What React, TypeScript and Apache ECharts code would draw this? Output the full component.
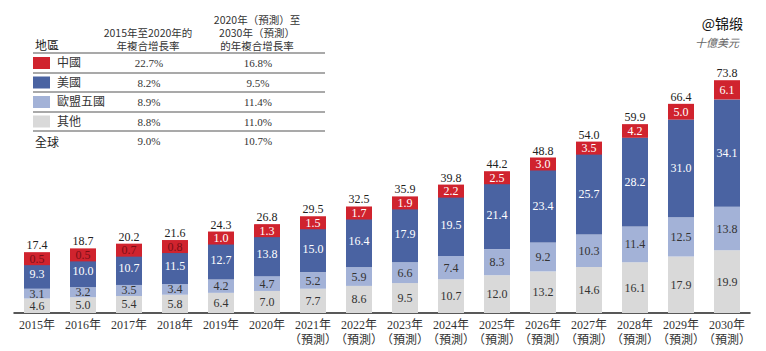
import React, { useEffect, useRef } from "react";
import * as echarts from "echarts";

const categories = [
  "2015年", "2016年", "2017年", "2018年", "2019年", "2020年",
  "2021年\n（預測）", "2022年\n（預測）", "2023年\n（預測）", "2024年\n（預測）", "2025年\n（預測）",
  "2026年\n（預測）", "2027年\n（預測）", "2028年\n（預測）", "2029年\n（預測）", "2030年\n（預測）",
];
const otherVals = [4.6, 5.0, 5.4, 5.8, 6.4, 7.0, 7.7, 8.6, 9.5, 10.7, 12.0, 13.2, 14.6, 16.1, 17.9, 19.9];
const eu5Vals = [3.1, 3.2, 3.5, 3.4, 4.2, 4.7, 5.2, 5.9, 6.6, 7.4, 8.3, 9.2, 10.3, 11.4, 12.5, 13.8];
const usVals = [9.3, 10.0, 10.7, 11.5, 12.7, 13.8, 15.0, 16.4, 17.9, 19.5, 21.4, 23.4, 25.7, 28.2, 31.0, 34.1];
const chinaVals = [0.5, 0.5, 0.7, 0.8, 1.0, 1.3, 1.5, 1.7, 1.9, 2.2, 2.5, 3.0, 3.5, 4.2, 5.0, 6.1];
const totals = [17.4, 18.7, 20.2, 21.6, 24.3, 26.8, 29.5, 32.5, 35.9, 39.8, 44.2, 48.8, 54.0, 59.9, 66.4, 73.8];

const tableRegions = ["中國", "美國", "歐盟五國", "其他"];
const cagr1520 = ["22.7%", "8.2%", "8.9%", "8.8%"];
const cagr2030 = ["16.8%", "9.5%", "11.4%", "11.0%"];
const globalRow = ["全球", "9.0%", "10.7%"];
const header1520 = ["2015年至2020年的", "年複合增長率"];
const header2030 = ["2020年（預測）至", "2030年（預測）", "的年複合增長率"];

const C_RED = "#d0232e";
const C_DARK = "#4a63a2";
const C_LIGHT = "#a3b2d7";
const C_GRAY = "#d9d9d9";
const regionColors = [C_RED, C_DARK, C_LIGHT, C_GRAY];

const SERIF = "'Liberation Serif', 'Times New Roman', 'Noto Sans CJK TC', serif";
const SANS = "'Noto Sans CJK TC', 'Noto Sans', sans-serif";

const Y_MAX = 80;
const PLOT_H = 252;

export default function App() {
  const ref = useRef<HTMLDivElement>(null);
  useEffect(() => {
    if (!ref.current) return;
    const chart = echarts.init(ref.current, null, { renderer: "svg" });

    const graphics: any[] = [];
    graphics.push({ type: "text", x: 35, y: 44, style: { text: "地區", font: `12px ${SANS}`, fill: "#222", verticalAlign: "middle" } });
    header1520.forEach((t, i) => {
      graphics.push({ type: "text", x: 148, y: 32 + i * 13, style: { text: t, font: `10.5px ${SANS}`, fill: "#333", align: "center", verticalAlign: "middle" } });
    });
    header2030.forEach((t, i) => {
      graphics.push({ type: "text", x: 257, y: 19 + i * 13, style: { text: t, font: `10.5px ${SANS}`, fill: "#333", align: "center", verticalAlign: "middle" } });
    });
    const lineYs = [53, 73, 92, 112, 131];
    lineYs.forEach((y) => {
      graphics.push({ type: "line", shape: { x1: 33, y1: y, x2: 325, y2: y }, style: { stroke: "#555", lineWidth: 1.2 } });
    });
    tableRegions.forEach((r, i) => {
      const cy = 63 + i * 19.5;
      graphics.push({ type: "rect", shape: { x: 33, y: cy - 6, width: 17, height: 12 }, style: { fill: regionColors[i] } });
      graphics.push({ type: "text", x: 57, y: cy, style: { text: r, font: `12px ${SERIF}`, fill: "#333", verticalAlign: "middle" } });
      graphics.push({ type: "text", x: 149, y: cy, style: { text: cagr1520[i], font: `11px ${SERIF}`, fill: "#333", align: "center", verticalAlign: "middle" } });
      graphics.push({ type: "text", x: 258, y: cy, style: { text: cagr2030[i], font: `11px ${SERIF}`, fill: "#333", align: "center", verticalAlign: "middle" } });
    });
    graphics.push({ type: "text", x: 35, y: 141, style: { text: globalRow[0], font: `12px ${SANS}`, fill: "#222", verticalAlign: "middle" } });
    graphics.push({ type: "text", x: 149, y: 141, style: { text: globalRow[1], font: `11px ${SERIF}`, fill: "#333", align: "center", verticalAlign: "middle" } });
    graphics.push({ type: "text", x: 258, y: 141, style: { text: globalRow[2], font: `11px ${SERIF}`, fill: "#333", align: "center", verticalAlign: "middle" } });
    graphics.push({ type: "text", x: 743, y: 23, style: { text: "@锦缎", font: `14px ${SANS}`, fill: "#111", align: "right", verticalAlign: "middle" } });
    graphics.push({ type: "text", x: 739, y: 43, style: { text: "十億美元", font: `italic 11px ${SERIF}`, fill: "#666", align: "right", verticalAlign: "middle" } });

    const inner = (color: string) => ({
      show: true, position: "inside", color, fontFamily: SERIF, fontSize: 12,
      formatter: (p: any) => Number(p.value).toFixed(1),
    });

    const pxPerUnit = PLOT_H / Y_MAX;

    chart.setOption({
      animation: false,
      grid: { left: 14, right: 16, top: 61, bottom: 38, containLabel: false, outerBoundsMode: "none" },
      xAxis: {
        type: "category", data: categories,
        axisLine: { lineStyle: { color: "#222", width: 1.5 } },
        axisTick: { show: false },
        axisLabel: { interval: 0, fontFamily: SERIF, fontSize: 12, color: "#333", lineHeight: 15, margin: 4 },
      },
      yAxis: { type: "value", min: 0, max: Y_MAX, show: false, splitLine: { show: false } },
      graphic: graphics,
      series: [
        { name: "其他", type: "bar", stack: "t", barWidth: 26, data: otherVals, itemStyle: { color: C_GRAY }, label: inner("#333") },
        { name: "歐盟五國", type: "bar", stack: "t", barWidth: 26, data: eu5Vals, itemStyle: { color: C_LIGHT }, label: inner("#333") },
        { name: "美國", type: "bar", stack: "t", barWidth: 26, data: usVals, itemStyle: { color: C_DARK }, label: inner("#fff") },
        {
          name: "中國", type: "bar", stack: "t", barWidth: 26,
          data: chinaVals.map((v) => ({
            value: v,
            label: { color: v < 1 ? "#7a0f16" : "#fff" },
          })),
          itemStyle: { color: C_RED },
          label: {
            show: true, position: "inside", fontFamily: SERIF, fontSize: 12, color: "#fff",
            backgroundColor: C_RED, width: 24, height: 11, lineHeight: 11, align: "center", padding: [1, 1],
            formatter: (p: any) => Number(p.value).toFixed(1),
          },
        },
        {
          name: "總計", type: "bar", stack: "t", barWidth: 26,
          data: totals.map((_, i) => ({
            value: 0,
            label: { distance: 1 + Math.max(0, 6.5 - (chinaVals[i] * pxPerUnit) / 2) },
          })),
          itemStyle: { color: "transparent" },
          label: {
            show: true, position: "top", distance: 1, fontFamily: SERIF, fontSize: 12, color: "#222",
            formatter: (p: any) => totals[p.dataIndex].toFixed(1),
          },
        },
      ],
    });
    return () => chart.dispose();
  }, []);
  return <div ref={ref} style={{ width: 766, height: 351, position: "absolute", left: 0, top: 0 }} />;
}
